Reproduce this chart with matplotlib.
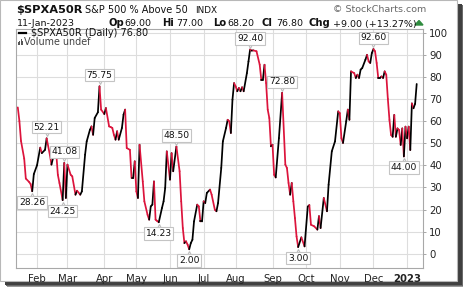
import numpy as np
import pandas as pd
import matplotlib
matplotlib.use("Agg")
import matplotlib.pyplot as plt
from matplotlib.collections import LineCollection
from matplotlib.patches import Rectangle
from matplotlib.lines import Line2D
import matplotlib.transforms as mtransforms

W, H, DPI = 464, 288, 100

# ---------------- data ----------------
holidays = ["2022-01-17", "2022-02-21", "2022-04-15", "2022-05-30", "2022-06-20",
            "2022-07-04", "2022-09-05", "2022-11-24", "2022-12-26", "2023-01-02"]

dates = [
    "2022-01-13", "2022-01-14", "2022-01-18", "2022-01-20", "2022-01-21", "2022-01-25",
    "2022-01-26", "2022-01-27", "2022-01-28", "2022-02-01", "2022-02-03", "2022-02-04",
    "2022-02-08", "2022-02-09", "2022-02-11", "2022-02-14", "2022-02-16", "2022-02-17",
    "2022-02-18", "2022-02-22", "2022-02-24", "2022-02-25", "2022-02-28", "2022-03-01",
    "2022-03-03", "2022-03-04", "2022-03-08", "2022-03-09", "2022-03-11", "2022-03-14",
    "2022-03-16", "2022-03-17", "2022-03-21", "2022-03-22", "2022-03-23", "2022-03-24",
    "2022-03-28", "2022-03-29", "2022-03-30", "2022-04-01", "2022-04-04", "2022-04-06",
    "2022-04-07", "2022-04-08", "2022-04-11", "2022-04-12", "2022-04-13", "2022-04-14",
    "2022-04-19", "2022-04-20", "2022-04-21", "2022-04-22", "2022-04-26", "2022-04-27",
    "2022-04-28", "2022-04-29", "2022-05-02", "2022-05-03", "2022-05-04", "2022-05-06",
    "2022-05-09", "2022-05-11", "2022-05-12", "2022-05-13", "2022-05-16", "2022-05-17",
    "2022-05-18", "2022-05-19", "2022-05-20", "2022-05-24", "2022-05-25", "2022-05-26",
    "2022-05-27", "2022-06-01", "2022-06-02", "2022-06-03", "2022-06-07", "2022-06-09",
    "2022-06-10", "2022-06-13", "2022-06-14", "2022-06-15", "2022-06-16", "2022-06-17",
    "2022-06-21", "2022-06-22", "2022-06-23", "2022-06-27", "2022-06-28", "2022-06-29",
    "2022-06-30", "2022-07-01", "2022-07-05", "2022-07-06", "2022-07-08", "2022-07-11",
    "2022-07-13", "2022-07-14", "2022-07-15", "2022-07-19", "2022-07-20", "2022-07-22",
    "2022-07-25", "2022-07-26", "2022-07-27", "2022-07-28", "2022-07-29", "2022-08-01",
    "2022-08-02", "2022-08-03", "2022-08-04", "2022-08-05", "2022-08-08", "2022-08-10",
    "2022-08-11", "2022-08-12", "2022-08-15", "2022-08-16", "2022-08-18", "2022-08-22",
    "2022-08-23", "2022-08-24", "2022-08-25", "2022-08-26", "2022-08-29", "2022-08-30",
    "2022-08-31", "2022-09-01", "2022-09-02", "2022-09-06", "2022-09-08", "2022-09-12",
    "2022-09-14", "2022-09-15", "2022-09-16", "2022-09-19", "2022-09-20", "2022-09-21",
    "2022-09-22", "2022-09-23", "2022-09-26", "2022-09-28", "2022-09-30", "2022-10-04",
    "2022-10-05", "2022-10-06", "2022-10-10", "2022-10-12", "2022-10-13", "2022-10-14",
    "2022-10-18", "2022-10-20", "2022-10-21", "2022-10-25", "2022-10-27", "2022-10-31",
    "2022-11-01", "2022-11-02", "2022-11-03", "2022-11-07", "2022-11-08", "2022-11-09",
    "2022-11-10", "2022-11-14", "2022-11-15", "2022-11-16", "2022-11-17", "2022-11-18",
    "2022-11-21", "2022-11-23", "2022-11-25", "2022-11-28", "2022-11-29", "2022-11-30",
    "2022-12-01", "2022-12-02", "2022-12-05", "2022-12-06", "2022-12-07", "2022-12-08",
    "2022-12-09", "2022-12-12", "2022-12-13", "2022-12-14", "2022-12-15", "2022-12-16",
    "2022-12-19", "2022-12-20", "2022-12-21", "2022-12-22", "2022-12-23", "2022-12-27",
    "2022-12-28", "2022-12-29", "2022-12-30", "2023-01-03", "2023-01-04", "2023-01-05",
    "2023-01-06", "2023-01-09", "2023-01-10", "2023-01-11",
]
values = [
    66.2, 60.0, 51.0, 43.0, 34.0, 32.5,
    31.5, 28.26, 36.0, 40.0, 48.0, 45.5,
    47.0, 52.21, 44.8, 40.3, 46.3, 45.5,
    35.7, 32.0, 24.25, 41.08, 25.2, 40.3,
    35.7, 35.0, 26.7, 28.5, 26.7, 28.2,
    44.8, 50.8, 56.0, 57.6, 53.8, 61.4,
    64.0, 75.75, 65.2, 63.2, 65.9, 57.6,
    57.3, 56.9, 53.8, 51.6, 55.4, 51.6,
    56.9, 62.9, 65.2, 47.8, 47.0, 34.2,
    34.2, 41.8, 28.2, 25.2, 49.3, 32.7,
    23.7, 17.6, 15.4, 21.4, 22.2, 32.7,
    15.4, 14.8, 14.23, 20.7, 23.7, 29.7,
    46.3, 33.5, 45.5, 37.3, 48.5, 37.3,
    23.7, 11.6, 4.8, 5.6, 4.1, 2.0,
    4.8, 6.3, 14.6, 22.2, 21.4, 14.6,
    14.6, 23.7, 22.9, 27.5, 29.0, 26.7,
    19.9, 19.2, 22.9, 38.8, 50.8, 56.9,
    60.6, 59.9, 54.6, 69.7, 77.2, 75.7,
    73.5, 75.0, 73.5, 75.3, 73.5, 81.7,
    87.0, 92.4, 91.9, 92.0, 91.6, 85.5,
    78.7, 78.7, 85.5, 77.2, 65.2, 61.4,
    48.6, 49.3, 35.7, 34.5, 52.3, 72.8,
    40.3, 38.8, 32.0, 26.7, 32.0, 23.7,
    16.1, 7.8, 3.0, 7.4, 3.3, 21.3,
    22.0, 13.1, 12.4, 10.9, 17.0, 11.6,
    25.2, 19.2, 31.2, 46.3, 50.8, 64.4,
    63.6, 52.3, 50.1, 59.9, 65.2, 60.6,
    82.5, 81.7, 79.5, 81.0, 79.5, 83.3,
    84.0, 87.8, 90.0, 87.0, 86.3, 90.8,
    92.6, 91.6, 86.3, 79.5, 79.5, 80.2,
    79.5, 82.5, 81.0, 70.0, 60.5, 53.7,
    52.9, 62.8, 52.9, 56.7, 56.0, 49.2,
    56.7, 44.0, 57.5, 52.2, 57.5, 46.9,
    68.0, 65.8, 67.8, 76.8,
]

label_dates = ["2022-01-27", "2022-02-09", "2022-02-24", "2022-02-25", "2022-03-29",
               "2022-05-20", "2022-06-07", "2022-06-17", "2022-08-12", "2022-09-12",
               "2022-09-26", "2022-12-01", "2022-12-29"]
label_values = [28.26, 52.21, 24.25, 41.08, 75.75, 14.23, 48.50, 2.00, 92.40, 72.80,
                3.00, 92.60, 44.00]
label_high = [False, True, False, True, True, False, True, False, True, True,
              False, True, False]

month_labels = ["Feb", "Mar", "Apr", "May", "Jun", "Jul", "Aug", "Sep", "Oct", "Nov", "Dec", "2023"]
y_ticks = [0, 10, 20, 30, 40, 50, 60, 70, 80, 90, 100]

# ---------------- calendar ----------------
cal = pd.bdate_range("2022-01-13", "2023-01-11", freq="C", holidays=holidays)
xpos = cal.get_indexer(pd.to_datetime(dates)).astype(float)
yval = np.array(values, dtype=float)
lab_x = cal.get_indexer(pd.to_datetime(label_dates)).astype(float)

month_pos = []
for ym in pd.period_range("2022-02", "2023-01", freq="M"):
    sel = np.where((cal.year == ym.year) & (cal.month == ym.month))[0]
    month_pos.append(sel[0])

# ---------------- figure ----------------
fig = plt.figure(figsize=(W / DPI, H / DPI), dpi=DPI)
fig.patch.set_facecolor("white")

def fx(px):
    return px / W

def fy(py):
    return 1 - py / H

# drop shadow + panel
for off, col in [(6, "#9a9a9a"), (5, "#6a6a6a"), (4, "#404040")]:
    fig.patches.append(Rectangle((fx(off + 1), fy(281 + off)), fx(457), 281 / H,
                                 transform=fig.transFigure, facecolor=col, edgecolor="none",
                                 zorder=-3))
fig.patches.append(Rectangle((0, fy(281)), fx(457.5), 281 / H, transform=fig.transFigure,
                             facecolor="white", edgecolor="#b8b8b8", lw=0.8, zorder=-2))

L, R, T, B = 16, 423, 29, 268.3
ax = fig.add_axes([fx(L), fy(B), fx(R - L), (B - T) / H])
ax.set_facecolor("white")

px_per_day = 1.602
x0 = 17.8
ax.set_xlim((L - x0) / px_per_day, (R - x0) / px_per_day)
ax.set_ylim((253.7 - B) / 2.21, (253.7 - T) / 2.21)

ax.set_yticks(y_ticks)
ax.set_xticks(month_pos)
ax.grid(True, color="#dddddd", lw=0.8)
ax.set_axisbelow(True)

ax.yaxis.tick_right()
ax.tick_params(axis="y", length=2.5, width=0.6, color="#999999", pad=2,
               labelsize=7.3, labelcolor="#222222")
ax.tick_params(axis="x", length=0, pad=4, labelsize=7.3, labelcolor="#222222")
ax.set_yticklabels([str(v) for v in y_ticks])
ax.set_xticklabels(month_labels)
for t in ax.get_xticklabels():
    if t.get_text() == "2023":
        t.set_fontweight("bold")
for s in ax.spines.values():
    s.set_color("#a8a8a8")
    s.set_linewidth(0.8)

# up/down coloured line
pts = np.column_stack([xpos, yval])
segs = np.stack([pts[:-1], pts[1:]], axis=1)
cols = ["#000000" if yval[i + 1] >= yval[i] else "#dc143c" for i in range(len(yval) - 1)]
lc = LineCollection(segs, colors=cols, linewidths=1.25, capstyle="round", joinstyle="round", zorder=3)
ax.add_collection(lc)

# value labels with pointer
for lx, lv, hi in zip(lab_x, label_values, label_high):
    sgn = 1 if hi else -1
    tr_m = mtransforms.offset_copy(ax.transData, fig=fig, x=0, y=sgn * 4.3, units="points")
    ax.plot([lx], [lv], marker="v" if hi else "^", ms=5.5, mfc="white", mec="#bdbdbd",
            mew=0.8, transform=tr_m, zorder=4, clip_on=False)
    ax.annotate(f"{lv:.2f}", xy=(lx, lv), xytext=(0, sgn * 8.0), textcoords="offset points",
                ha="center", va="center", fontsize=6.6, color="#111111", zorder=5,
                bbox=dict(boxstyle="square,pad=0.18", fc="white", ec="#c4c4c4", lw=0.8))

# legend in plot
fig.lines.append(Line2D([fx(18.5), fx(26.5)], [fy(32.6), fy(32.6)], transform=fig.transFigure,
                        color="black", lw=1.6))
fig.text(fx(31), fy(32.6), "$SPXA50R (Daily) 76.80", fontsize=7.0, va="center", ha="left",
         color="#111111")
for i, hgt in enumerate([3.0, 4.5, 6.0, 4.0]):
    fig.patches.append(Rectangle((fx(18 + i * 1.4), fy(45.0)), fx(1.0), hgt / H,
                                 transform=fig.transFigure, facecolor="#555555", edgecolor="none"))
fig.text(fx(24), fy(42.3), "Volume undef", fontsize=6.9, va="center", ha="left", color="#444444")

# header
fig.text(fx(16), fy(13), "$SPXA50R", fontsize=8.2, fontweight="bold", va="baseline", color="#111111")
fig.text(fx(85), fy(13), "S&P 500 % Above 50", fontsize=7.0, va="baseline", color="#111111")
fig.text(fx(195), fy(13), "INDX", fontsize=6.4, va="baseline", color="#111111")
fig.text(fx(333), fy(12), "\u00a9 StockCharts.com", fontsize=6.8, va="baseline", color="#666666")

fig.text(fx(16.5), fy(26.5), "11-Jan-2023", fontsize=6.8, va="baseline", color="#111111")
row = [(109, "Op", True), (124.5, "69.00", False), (162, "Hi", True), (176, "77.00", False),
       (213, "Lo", True), (227.5, "68.20", False), (262, "Cl", True), (276.5, "76.80", False),
       (309, "Chg", True), (333, "+9.00 (+13.27%)", False)]
for xp, txt, bold in row:
    fig.text(fx(xp), fy(26.5), txt, fontsize=7.2 if bold else 6.8,
             fontweight="bold" if bold else "normal", va="baseline", color="#111111")
ax_tri = fig.add_axes([0, 0, 1, 1], facecolor="none")
ax_tri.set_axis_off()
ax_tri.set_xlim(0, W)
ax_tri.set_ylim(H, 0)
ax_tri.fill([415, 423, 419], [25, 25, 20.5], color="#2e8b3e")

fig.savefig("out.png", dpi=DPI, facecolor="white")
